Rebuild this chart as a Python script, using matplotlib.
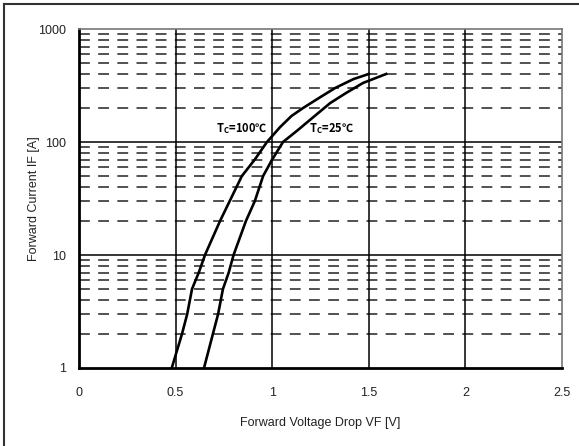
import matplotlib.pyplot as plt
from matplotlib.lines import Line2D

# forward characteristics
vf_100 = [0.48, 0.533, 0.56, 0.585, 0.62, 0.652, 0.73, 0.78, 0.843, 0.91, 0.973,
          1.04, 1.10, 1.16, 1.25, 1.325, 1.42, 1.50]
if_100 = [1, 2, 3, 5, 7, 10, 20, 30, 50, 70, 100, 135, 170, 200, 250, 300, 360, 400]
vf_25 = [0.647, 0.693, 0.72, 0.745, 0.775, 0.80, 0.864, 0.91, 0.953, 1.0, 1.056,
         1.134, 1.22, 1.30, 1.38, 1.47, 1.59]
if_25 = [1, 2, 3, 5, 7, 10, 20, 30, 50, 70, 100, 128, 170, 221, 270, 333, 400]

x_ticks = [0, 0.5, 1, 1.5, 2, 2.5]
x_ticklabels = ['0', '0.5', '1', '1.5', '2', '2.5']
y_ticks = [1, 10, 100, 1000]
y_ticklabels = ['1', '10', '100', '1000']

plt.rcParams['font.family'] = ['Liberation Sans', 'DejaVu Sans']
plt.rcParams['mathtext.fontset'] = 'custom'
plt.rcParams['mathtext.rm'] = 'Liberation Sans:bold'

fig = plt.figure(figsize=(5.79, 4.46), dpi=100)
ax = fig.add_axes([79/579, 78/446, 483/579, 339/446])

ax.set_yscale('log')
ax.set_xlim(0, 2.5)
ax.set_ylim(1, 1000)

# dashed minor grid lines
for dec in [1, 10, 100]:
    for m in range(2, 10):
        ax.axhline(dec*m, color='#333333', lw=1.2, ls=(0, (6.5, 5)), zorder=1)
for y in [10, 100]:
    ax.axhline(y, color='black', lw=1.1, zorder=2)
for x in [0.5, 1, 1.5, 2]:
    ax.axvline(x, color='black', lw=1.1, zorder=2)

ax.plot(vf_100, if_100, color='black', lw=1.9, zorder=3)
ax.plot(vf_25, if_25, color='black', lw=1.9, zorder=3)

lbl_font = ['Noto Sans CJK JP', 'DejaVu Sans']
ax.text(0.71, 114, r'T$_\mathregular{C}$=100℃', fontsize=8, fontweight='bold',
        family=lbl_font, va='bottom', ha='left')
ax.text(1.19, 114, r'T$_\mathregular{C}$=25℃', fontsize=8, fontweight='bold',
        family=lbl_font, va='bottom', ha='left')

ax.set_xticks(x_ticks)
ax.set_xticklabels(x_ticklabels)
ax.set_yticks(y_ticks)
ax.set_yticklabels(y_ticklabels)
ax.yaxis.set_minor_locator(plt.NullLocator())
ax.tick_params(length=0, labelsize=9, colors='#222222')
ax.tick_params(axis='x', pad=14)
ax.tick_params(axis='y', pad=9)

ax.spines['left'].set_linewidth(2)
ax.spines['bottom'].set_linewidth(2)
ax.spines['top'].set_color('#777777')
ax.spines['right'].set_color('#777777')
ax.spines['top'].set_linewidth(1.2)
ax.spines['right'].set_linewidth(1.2)

ax.set_xlabel('Forward Voltage Drop VF [V]', fontsize=9, color='#222222')
ax.set_ylabel('Forward Current IF [A]', fontsize=9, color='#222222')
ax.xaxis.set_label_coords(0.5, -0.145)
ax.yaxis.set_label_coords(-0.08, 0.5)

# outer frame (left and top edges)
fig.add_artist(Line2D([4/579, 4/579], [0, 1 - 4/446], color='#333333', lw=1.5,
                      transform=fig.transFigure))
fig.add_artist(Line2D([4/579, 1], [1 - 4/446, 1 - 4/446], color='#333333', lw=1.5,
                      transform=fig.transFigure))

fig.savefig('out.png', dpi=100)
